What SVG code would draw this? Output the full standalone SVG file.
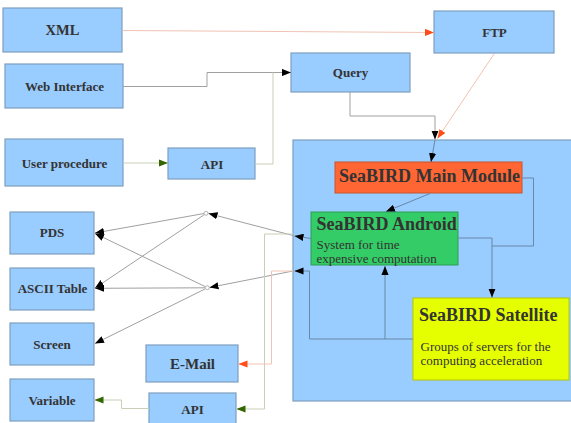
<svg xmlns="http://www.w3.org/2000/svg" width="571" height="423" viewBox="0 0 571 423">
<defs>
<style>
.box{fill:#99ccff;stroke:#7f9fbf;stroke-width:1.2}
.lbl{font-family:"Liberation Serif","Times New Roman",serif;font-weight:bold;font-size:13px;fill:#333;text-anchor:middle}
.big{font-family:"Liberation Serif","Times New Roman",serif;font-weight:bold;font-size:18px;fill:#333}
.sub{font-family:"Liberation Serif","Times New Roman",serif;font-size:13px;fill:#333}
.c{fill:none;stroke-width:1}
.gray{stroke:#a0a0a0}
.salmon{stroke:#f0c4b4}
.olive{stroke:#c8cfb8}
.blue{stroke:#6a87a8}
</style>
<marker id="ab" viewBox="0 0 10 8" refX="10" refY="4" markerWidth="9" markerHeight="7.5" markerUnits="userSpaceOnUse" orient="auto"><path d="M0,0 L10,4 L0,8 z" fill="#000"/></marker>
<marker id="ar" viewBox="0 0 10 8" refX="10" refY="4" markerWidth="9" markerHeight="7.5" markerUnits="userSpaceOnUse" orient="auto"><path d="M0,0 L10,4 L0,8 z" fill="#ff4d1a"/></marker>
<marker id="ag" viewBox="0 0 10 8" refX="10" refY="4" markerWidth="9" markerHeight="7.5" markerUnits="userSpaceOnUse" orient="auto"><path d="M0,0 L10,4 L0,8 z" fill="#336600"/></marker>
</defs>
<rect width="571" height="423" fill="#fff"/>

<g id="container"><rect x="293" y="140" width="290" height="261" fill="#99ccff" stroke="#7f9fbf" stroke-width="1.2"/></g>

<g id="xml"><rect class="box" x="3" y="8" width="119" height="44"/><text class="lbl" x="62.5" y="35" style="font-size:14.5px">XML</text></g>
<g id="web"><rect class="box" x="5" y="64" width="118" height="44"/><text class="lbl" x="64.5" y="91">Web Interface</text></g>
<g id="user"><rect class="box" x="5" y="139" width="118" height="47"/><text class="lbl" x="64.5" y="168">User procedure</text></g>
<g id="api1"><rect class="box" x="168" y="148" width="87" height="31"/><text class="lbl" x="212" y="169">API</text></g>
<g id="query"><rect class="box" x="291" y="53" width="119" height="39"/><text class="lbl" x="350.5" y="77">Query</text></g>
<g id="ftp"><rect class="box" x="434" y="11" width="120" height="42"/><text class="lbl" x="494.5" y="37">FTP</text></g>

<g id="main"><rect x="335" y="162" width="187" height="31" fill="#ff6633" stroke="#c8552a" stroke-width="1"/><text class="big" x="339" y="181.5">SeaBIRD Main Module</text></g>
<g id="android"><rect x="311" y="212" width="147" height="53" fill="#33cc66" stroke="#2c9e55" stroke-width="1"/><text class="big" x="316.5" y="230">SeaBIRD Android</text><text class="sub" x="316.5" y="248.5">System for time</text><text class="sub" x="316.5" y="262.5">expensive computation</text></g>
<g id="satellite"><rect x="413" y="298" width="156" height="82" fill="#e6ff00" stroke="#b5c400" stroke-width="1"/><text class="big" x="419" y="320.5">SeaBIRD Satellite</text><text class="sub" x="420.5" y="350.5">Groups of servers for the</text><text class="sub" x="420.5" y="364.5">computing acceleration</text></g>

<g id="pds"><rect class="box" x="10" y="212" width="84" height="42"/><text class="lbl" x="52" y="237">PDS</text></g>
<g id="ascii"><rect class="box" x="10" y="268" width="84" height="42"/><text class="lbl" x="52.5" y="293">ASCII Table</text></g>
<g id="screen"><rect class="box" x="10" y="323" width="84" height="42"/><text class="lbl" x="52" y="349">Screen</text></g>
<g id="variable"><rect class="box" x="10" y="379" width="84" height="42"/><text class="lbl" x="52" y="404.5">Variable</text></g>
<g id="email"><rect class="box" x="146" y="345" width="92" height="37"/><text class="lbl" x="192.5" y="368.5" style="font-size:15px">E-Mail</text></g>
<g id="api2"><rect class="box" x="149" y="393" width="87" height="35"/><text class="lbl" x="192.5" y="413.5">API</text></g>

<g id="connectors">
<path class="c salmon" d="M122,30.5 L434,32.5" marker-end="url(#ar)"/>
<path class="c gray" d="M123,86.5 H207 V72.5 H291" marker-end="url(#ab)"/>
<path class="c olive" d="M255,164 H273 V72.5"/>
<path class="c olive" d="M123,163 H168" marker-end="url(#ag)"/>
<path class="c gray" d="M350,92 V116 H435 V139.5" marker-end="url(#ab)"/>
<path class="c salmon" d="M494,54 L437.5,138.5" marker-end="url(#ar)"/>
<path class="c blue" d="M435,140 L431,162" marker-end="url(#ab)"/>
<path class="c blue" d="M430,193.5 L386,211.5" marker-end="url(#ab)"/>
<path class="c blue" d="M522,178 H533.5 V246 H492"/>
<path class="c blue" d="M458,238 H492 V297.5" marker-end="url(#ab)"/>
<path class="c blue" d="M413,339 H385 V266" marker-end="url(#ab)"/>
<path class="c blue" d="M385,339 H309.5 V271 H294.5" marker-end="url(#ab)"/>
<path class="c blue" d="M311,238.5 L294.5,236" marker-end="url(#ab)"/>
<path class="c gray" d="M293,235.5 L208.5,213.5" marker-end="url(#ab)"/>
<path class="c gray" d="M293,271 L209.5,287.5" marker-end="url(#ab)"/>
<path class="c gray" d="M204,213.5 L95,233" marker-end="url(#ab)"/>
<path class="c gray" d="M204.5,214.5 L95,288" marker-end="url(#ab)"/>
<path class="c gray" d="M205,286.5 L95,233.5" marker-end="url(#ab)"/>
<path class="c gray" d="M205,287.8 L95,288.3" marker-end="url(#ab)"/>
<path class="c gray" d="M205,289 L95,343.5" marker-end="url(#ab)"/>
<circle cx="206" cy="213.3" r="2" fill="#fff" stroke="#a0a0a0" stroke-width="0.8"/>
<circle cx="207.3" cy="287.7" r="2" fill="#fff" stroke="#a0a0a0" stroke-width="0.8"/>
<path class="c olive" d="M293,234 H264.5 V409 H236.5" marker-end="url(#ag)"/>
<path class="c salmon" d="M293,271 H271.5 V364 H238.5" marker-end="url(#ar)"/>
<path class="c olive" d="M149,408.5 H121.5 V400 H94.5" marker-end="url(#ag)"/>
</g>
</svg>
